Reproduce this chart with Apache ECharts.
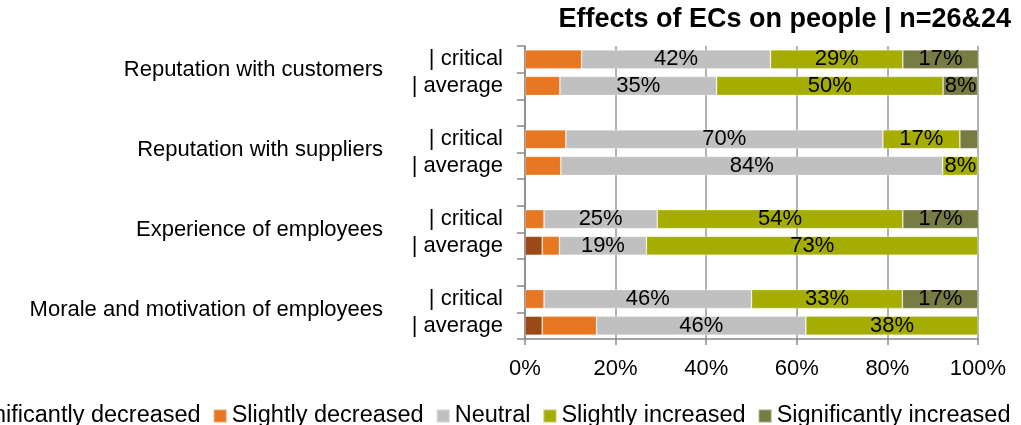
<!DOCTYPE html>
<html><head><meta charset="utf-8">
<script src="https://cdn.jsdelivr.net/npm/echarts@6/dist/echarts.min.js"></script>
<style>html,body{margin:0;padding:0;background:#fff}#c{width:1021px;height:425px}</style>
</head><body><div id="c"></div>
<script>
const groups = ['Reputation with customers','Reputation with suppliers','Experience of employees','Morale and motivation of employees'];
const rowLabels = ['| critical','| average'];
const seriesNames = ['Significantly decreased','Slightly decreased','Neutral','Slightly increased','Significantly increased'];
const colors = ['#9C4A17','#E87722','#C0C0C0','#A5AD00','#767C42'];
// order per group: critical, average
const sigDec  = [0, 0,    0, 0,     0, 3.8,    0, 3.8];
const slDec   = [12.5, 7.7, 9, 7.9,  4.2, 3.8,  4.2, 12.0];
const neutral = [41.7, 34.6, 70, 84.3, 25, 19.2, 45.8, 46.2];
const slInc   = [29.2, 50, 17, 7.8,  54.2, 73.2, 33.3, 38];
const sigInc  = [16.7, 7.7, 4, 0,    16.7, 0,   16.7, 0];

const keys = [], subText = {}, groupText = {};
groups.forEach((g,gi)=>{
  ['c','a'].forEach((r,ri)=>{
    const k = r+gi; keys.push(k); subText[k]=rowLabels[ri];
    if(ri===0) groupText[k]=g;
  });
  if(gi<groups.length-1){ keys.push('gap'+gi); }
});
function expand(arr){
  const out=[]; let j=0;
  keys.forEach(k=>{ if(k.startsWith('gap')) out.push('-'); else { const v=arr[j++]; out.push(v===0?'-':v); } });
  return out;
}
const allData=[sigDec,slDec,neutral,slInc,sigInc];
const font='Liberation Sans, Arial, sans-serif';
const chart=echarts.init(document.getElementById('c'));
chart.setOption({
  animation:false,
  title:{text:'Effects of ECs on people | n=26&24',right:5,top:1,
    textStyle:{fontFamily:font,fontWeight:'bold',fontSize:27,color:'#000'}},
  grid:{left:525,right:43,top:46,bottom:86},
  legend:{left:-65,top:399,width:1150,itemWidth:13,itemHeight:13,itemGap:12,icon:'rect',
    textStyle:{fontFamily:font,fontSize:23.5,color:'#000'},data:seriesNames},
  xAxis:{type:'value',min:0,max:100,interval:20,
    axisLabel:{formatter:'{value}%',fontFamily:font,fontSize:22,color:'#000',margin:19},
    axisLine:{show:true,lineStyle:{color:'#888',width:1.5}},
    axisTick:{show:true,length:6,lineStyle:{color:'#888',width:1.5}},
    splitLine:{show:true,lineStyle:{color:'#999',width:1.5}}},
  yAxis:[{type:'category',inverse:true,data:keys,
    axisLine:{show:true,lineStyle:{color:'#888',width:1.5}},
    axisTick:{show:true,length:8,interval:0,lineStyle:{color:'#888',width:1.5}},
    axisLabel:{interval:0,margin:22,fontFamily:font,fontSize:22,color:'#000',
      formatter:v=>subText[v]||''}},
   {type:'category',inverse:true,data:keys,position:'left',
    axisLine:{show:false},axisTick:{show:false},
    axisLabel:{interval:0,margin:142,fontFamily:font,fontSize:22,color:'#000',
      verticalAlign:'top',formatter:v=>groupText[v]||''}}],
  series:seriesNames.map((n,i)=>({
    name:n,type:'bar',stack:'all',barWidth:19,
    itemStyle:{color:colors[i],borderColor:'rgba(255,255,255,0.35)',borderWidth:0.8},
    label:{show:i>=2,position:'inside',fontFamily:font,fontSize:22,color:'#000',
      formatter:p=>(p.value>=6?Math.round(p.value)+'%':'')},
    data:expand(allData[i])
  }))
});
</script></body></html>
